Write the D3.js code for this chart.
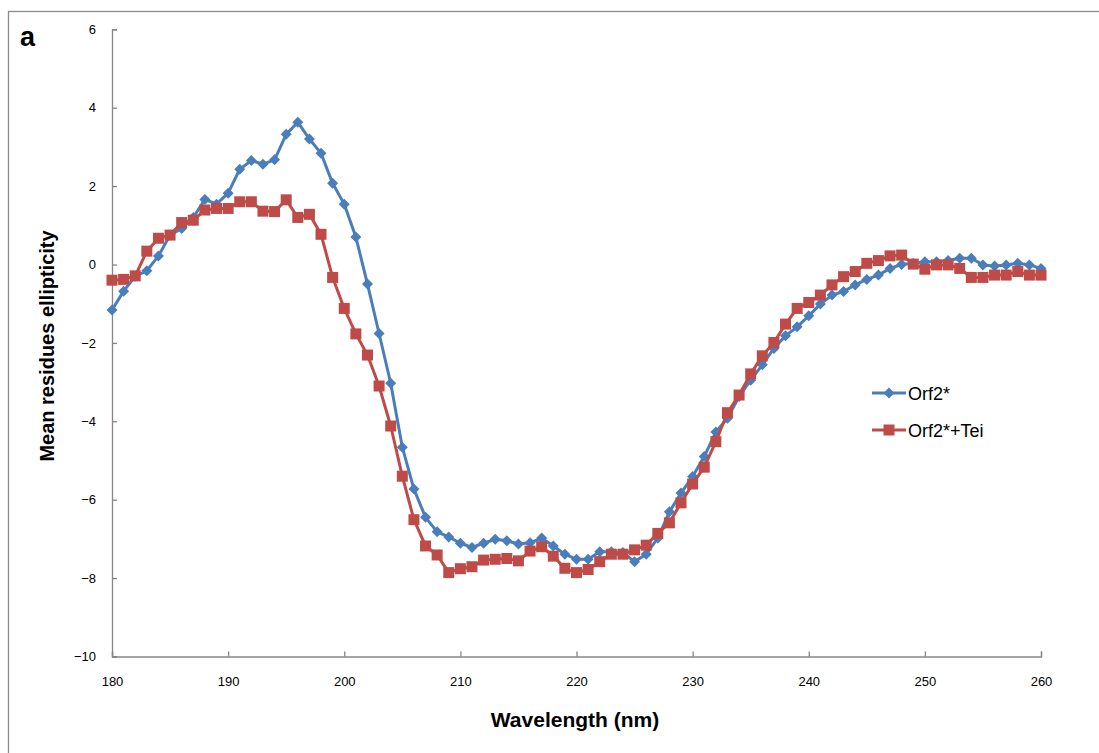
<!DOCTYPE html>
<html>
<head>
<meta charset="utf-8">
<script src="https://cdn.jsdelivr.net/npm/d3@7"></script>
<style>
  html, body { margin: 0; padding: 0; background: #fff; }
  svg { display: block; }
  .tick text { font-family: "Liberation Sans", Arial, sans-serif; font-size: 13px; fill: #000; }
</style>
</head>
<body>
<div id="root"></div>
<script>
const WIDTH = 1099;
const HEIGHT = 753;

// wavelengths 180..260 nm, one reading per nm
const wavelengths = d3.range(180, 261);

const orf2 = [
    -1.16, -0.68, -0.30, -0.16, 0.22, 0.75, 0.92, 1.20, 1.66, 1.54,
    1.82, 2.43, 2.65, 2.56, 2.67, 3.32, 3.63, 3.20, 2.84, 2.07,
    1.54, 0.70, -0.50, -1.76, -3.03, -4.66, -5.73, -6.45, -6.82, -6.95,
    -7.11, -7.22, -7.11, -7.01, -7.05, -7.13, -7.10, -6.98, -7.18, -7.39,
    -7.52, -7.52, -7.33, -7.33, -7.35, -7.58, -7.39, -6.98, -6.31, -5.83,
    -5.41, -4.90, -4.27, -3.92, -3.37, -2.95, -2.56, -2.14, -1.82, -1.59,
    -1.31, -1.01, -0.78, -0.69, -0.52, -0.38, -0.27, -0.10, 0.00, 0.03,
    0.07, 0.07, 0.10, 0.16, 0.16, -0.01, -0.04, -0.01, 0.03, -0.01,
    -0.10
];

const orf2Tei = [
    -0.40, -0.38, -0.29, 0.34, 0.67, 0.75, 1.07, 1.13, 1.39, 1.43,
    1.43, 1.60, 1.60, 1.36, 1.35, 1.65, 1.20, 1.28, 0.77, -0.33,
    -1.12, -1.77, -2.31, -3.10, -4.12, -5.40, -6.51, -7.18, -7.41, -7.86,
    -7.76, -7.71, -7.54, -7.52, -7.50, -7.56, -7.31, -7.20, -7.44, -7.75,
    -7.86, -7.78, -7.58, -7.39, -7.39, -7.28, -7.16, -6.86, -6.59, -6.08,
    -5.60, -5.17, -4.52, -3.78, -3.33, -2.79, -2.33, -1.99, -1.52, -1.12,
    -0.97, -0.78, -0.52, -0.31, -0.18, 0.03, 0.10, 0.22, 0.24, 0.01,
    -0.12, -0.01, -0.01, -0.10, -0.33, -0.33, -0.27, -0.27, -0.18, -0.27,
    -0.27
];

const seriesNames = ["Orf2*", "Orf2*+Tei"];
const xTicks = [180, 190, 200, 210, 220, 230, 240, 250, 260];
const yTicks = [-10, -8, -6, -4, -2, 0, 2, 4, 6];

const BLUE = "#4A7EBB";
const RED = "#BE4B48";
const AXIS = "#868686";

const xScale = d3.scaleLinear().domain([180, 260]).range([112, 1041]);
const yScale = d3.scaleLinear().domain([-10, 6]).range([656.5, 29.3]);

const svg = d3.select("#root")
    .append("svg")
    .attr("width", WIDTH)
    .attr("height", HEIGHT);

// outer chart frame (right and bottom fall outside the picture)
svg.append("rect")
    .attr("x", 8.5).attr("y", 11.5)
    .attr("width", 1200).attr("height", 900)
    .attr("fill", "none")
    .attr("stroke", "#8c8c8c")
    .attr("stroke-width", 1.3);

svg.append("text")
    .attr("x", 20).attr("y", 46)
    .style("font-family", "'Liberation Sans', Arial, sans-serif")
    .style("font-weight", "bold")
    .style("font-size", "27px")
    .text("a");

// axes
const xAxis = d3.axisBottom(xScale).tickValues(xTicks).tickSize(-5).tickPadding(20);
const gx = svg.append("g")
    .attr("transform", `translate(0, ${yScale(-10)})`)
    .call(xAxis);

const yAxis = d3.axisLeft(yScale).tickValues(yTicks).tickSize(-5).tickPadding(16);
const gy = svg.append("g")
    .attr("transform", `translate(${xScale(180)}, 0)`)
    .call(yAxis);

[gx, gy].forEach(g => {
    g.select(".domain").attr("stroke", AXIS).attr("stroke-width", 1.3);
    g.selectAll(".tick line").attr("stroke", AXIS).attr("stroke-width", 1.3);
});

// axis titles
svg.append("text")
    .attr("x", 575).attr("y", 727)
    .attr("text-anchor", "middle")
    .style("font-family", "'Liberation Sans', Arial, sans-serif")
    .style("font-weight", "bold")
    .style("font-size", "21px")
    .text("Wavelength (nm)");

svg.append("text")
    .attr("transform", `translate(54, 346) rotate(-90)`)
    .attr("text-anchor", "middle")
    .style("font-family", "'Liberation Sans', Arial, sans-serif")
    .style("font-weight", "bold")
    .style("font-size", "20px")
    .text("Mean residues ellipticity");

// series
const diamond = s => `M0,${-s}L${s},0L0,${s}L${-s},0Z`;
const square = s => `M${-s},${-s}H${s}V${s}H${-s}Z`;

const series = [
    {name: seriesNames[0], values: orf2, color: BLUE, marker: diamond(5.5)},
    {name: seriesNames[1], values: orf2Tei, color: RED, marker: square(5.5)}
];

const line = d3.line()
    .x(d => xScale(d[0]))
    .y(d => yScale(d[1]));

series.forEach(s => {
    const pts = wavelengths.map((w, i) => [w, s.values[i]]);
    const g = svg.append("g");
    g.append("path")
        .datum(pts)
        .attr("d", line)
        .attr("fill", "none")
        .attr("stroke", s.color)
        .attr("stroke-width", 3)
        .attr("stroke-linejoin", "round");
    g.selectAll("path.marker")
        .data(pts)
        .enter()
        .append("path")
        .attr("class", "marker")
        .attr("transform", d => `translate(${xScale(d[0])}, ${yScale(d[1])})`)
        .attr("d", s.marker)
        .attr("fill", s.color);
});

// legend
const legend = svg.append("g").attr("transform", "translate(872, 393)");
series.forEach((s, i) => {
    const row = legend.append("g").attr("transform", `translate(0, ${i * 37})`);
    row.append("line")
        .attr("x1", 0).attr("x2", 34)
        .attr("stroke", s.color).attr("stroke-width", 3);
    row.append("path")
        .attr("transform", "translate(17, 0)")
        .attr("d", s.marker)
        .attr("fill", s.color);
    row.append("text")
        .attr("x", 36).attr("y", 6.5)
        .style("font-family", "'Liberation Sans', Arial, sans-serif")
        .style("font-size", "18px")
        .text(s.name);
});
</script>
</body>
</html>
